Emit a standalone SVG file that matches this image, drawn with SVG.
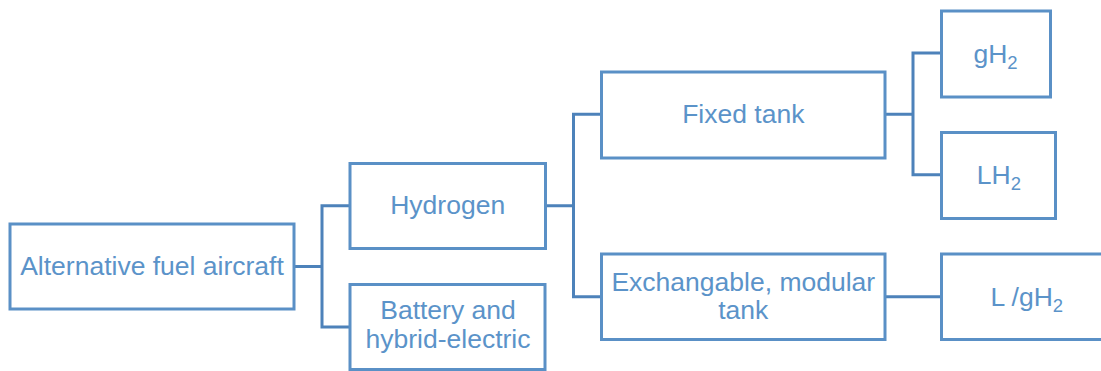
<svg xmlns="http://www.w3.org/2000/svg" width="1101" height="371" viewBox="0 0 1101 371">
<style>
.box{fill:#ffffff;stroke:#5a90c6;stroke-width:3}
.conn{fill:none;stroke:#4d82ba;stroke-width:3}
.t{font-family:"Liberation Sans",Arial,sans-serif;font-size:26.5px;fill:#5b93c9;text-anchor:middle}
.sub{font-size:18.5px}
</style>
<rect width="1101" height="371" fill="#ffffff"/>
<g id="connectors">
<path class="conn" d="M294 266.5 H322 M350 205.7 H322 V327 H350"/>
<path class="conn" d="M545.5 205.7 H573.5 M601.5 114.3 H573.5 V296.7 H601.5"/>
<path class="conn" d="M885 114.3 H913 M941.5 53 H913 V174.7 H941.5"/>
<path class="conn" d="M885 296.7 H941.5"/>
</g>
<g id="node-alt">
<rect class="box" x="10" y="224" width="284" height="85"/>
<text class="t" x="152" y="275">Alternative fuel aircraft</text>
</g>
<g id="node-hydrogen">
<rect class="box" x="350" y="163.5" width="195.5" height="85"/>
<text class="t" x="447.7" y="214">Hydrogen</text>
</g>
<g id="node-battery">
<rect class="box" x="350" y="284.5" width="195" height="85"/>
<text class="t" x="448" y="319.3">Battery and</text>
<text class="t" x="448" y="348.3">hybrid-electric</text>
</g>
<g id="node-fixed">
<rect class="box" x="601.5" y="72" width="283.5" height="86"/>
<text class="t" x="743.3" y="123.3">Fixed tank</text>
</g>
<g id="node-exchangable">
<rect class="box" x="601.5" y="254" width="283.5" height="85.5"/>
<text class="t" x="743.3" y="290.7">Exchangable, modular</text>
<text class="t" x="743.3" y="319">tank</text>
</g>
<g id="node-gh2">
<rect class="box" x="941.5" y="11" width="109" height="86"/>
<text class="t" x="995.5" y="63.3">gH<tspan class="sub" dy="6">2</tspan></text>
</g>
<g id="node-lh2">
<rect class="box" x="941.5" y="132.5" width="114" height="86"/>
<text class="t" x="998.9" y="184.3">LH<tspan class="sub" dy="6">2</tspan></text>
</g>
<g id="node-lgh2">
<rect class="box" x="941.5" y="254" width="175" height="85.5"/>
<text class="t" x="1026.8" y="305.7">L /gH<tspan class="sub" dy="6">2</tspan></text>
</g>
</svg>
